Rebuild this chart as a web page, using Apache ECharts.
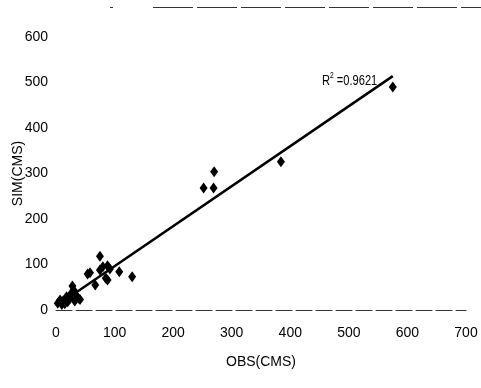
<!DOCTYPE html>
<html>
<head>
<meta charset="utf-8">
<script src="https://cdn.jsdelivr.net/npm/echarts@6/dist/echarts.min.js"></script>
<style>
  html, body { margin: 0; padding: 0; background: #fff; }
  #chart { width: 481px; height: 388px; }
</style>
</head>
<body>
<div id="chart"></div>
<script>
const obs = [575, 384, 270, 269, 252, 75, 54, 58, 75, 80, 88, 92, 108, 130, 88, 85, 67, 28, 30, 26, 38, 32, 24, 18, 12, 7, 3, 41, 15, 10, 35, 20];
const sim = [490, 326, 304, 268, 268, 118, 79, 82, 88, 95, 97, 90, 84, 73, 66, 70, 55, 53, 44, 36, 26, 20, 26, 29, 20, 22, 15, 23, 14, 12, 30, 18];

// fitted trend line end points
const trendX = [3, 575];
const trendY = [11, 514];

const xTicks = [0, 100, 200, 300, 400, 500, 600, 700];
const yTicks = [0, 100, 200, 300, 400, 500, 600];
const r2Text = "0.9621";

const font = "'Liberation Sans', Arial, sans-serif";

const chart = echarts.init(document.getElementById("chart"));

const points = obs.map((x, i) => [x, sim[i]]);
const trend = trendX.map((x, i) => [x, trendY[i]]);

chart.setOption({
  animation: false,
  backgroundColor: "#fff",
  grid: { left: 56, right: 15, top: 37, bottom: 78, outerBoundsMode: "none", containLabel: false },
  xAxis: {
    type: "value",
    min: xTicks[0],
    max: xTicks[xTicks.length - 1],
    interval: 100,
    name: "OBS(CMS)",
    nameLocation: "middle",
    nameGap: 45,
    nameMoveOverlap: false,
    nameTextStyle: { fontFamily: font, fontSize: 14, color: "#000" },
    axisLine: { show: true, lineStyle: { color: "#333", width: 1, type: [16, 4] } },
    axisTick: { show: false },
    splitLine: { show: false },
    axisLabel: { fontFamily: font, fontSize: 14, color: "#000", margin: 16 }
  },
  yAxis: {
    type: "value",
    min: yTicks[0],
    max: yTicks[yTicks.length - 1],
    interval: 100,
    name: "SIM(CMS)",
    nameLocation: "middle",
    nameGap: 31,
    nameMoveOverlap: false,
    nameTextStyle: { fontFamily: font, fontSize: 14, color: "#000" },
    axisLine: { show: false },
    axisTick: { show: false },
    splitLine: { show: false },
    axisLabel: { fontFamily: font, fontSize: 14, color: "#000", margin: 8 }
  },
  graphic: [
    {
      type: "line",
      shape: { x1: 153, y1: 7.5, x2: 481, y2: 7.5 },
      style: { stroke: "#333", lineWidth: 1, lineDash: [40, 4] }
    },
    {
      type: "line",
      shape: { x1: 110, y1: 7.5, x2: 113, y2: 7.5 },
      style: { stroke: "#333", lineWidth: 1 }
    },
    {
      type: "text",
      x: 322,
      y: 71,
      scaleX: 0.74,
      style: {
        text: "{b|R}{s|2}{b| =" + r2Text + "}",
        rich: {
          b: { fontFamily: font, fontSize: 15, fill: "#000", verticalAlign: "bottom" },
          s: { fontFamily: font, fontSize: 9, fill: "#000", verticalAlign: "top", padding: [0, 0, 8, 0] }
        }
      }
    }
  ],
  series: [
    {
      type: "line",
      data: trend,
      symbol: "none",
      lineStyle: { color: "#000", width: 2.5 },
      z: 2
    },
    {
      type: "scatter",
      data: points,
      symbol: "diamond",
      symbolSize: [8, 11],
      itemStyle: { color: "#000", opacity: 1 },
      z: 3
    }
  ]
});
</script>
</body>
</html>
